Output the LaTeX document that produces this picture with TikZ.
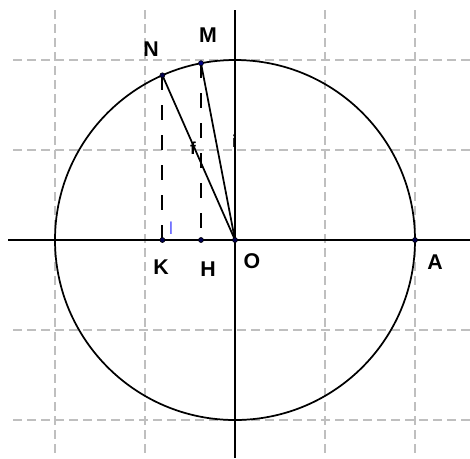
\documentclass[tikz,border=0pt]{standalone}
\usepackage{fontspec}
\setmainfont{Liberation Sans}
\begin{document}
\begin{tikzpicture}[x=0.75pt,y=-0.75pt,
  gridline/.style={draw=black!25,line width=1.2pt,dash pattern=on 6.75pt off 3.75pt},
  axis/.style={draw=black,line width=1.3pt},
  seg/.style={draw=black,line width=1.3pt},
  proj/.style={draw=black,line width=1.4pt,dash pattern=on 11.25pt off 11.25pt},
  pt/.style={circle,fill=black!70!blue,draw=black,line width=0.4pt,inner sep=0pt,minimum size=3.8pt},
  lbl/.style={font=\fontsize{16}{18}\selectfont\bfseries,inner sep=0pt},
  small/.style={font=\fontsize{13}{15}\selectfont\bfseries,inner sep=0pt}]
\useasboundingbox (0,0) rectangle (470,458);
% grid
\foreach \gx in {55,145,325,415} \draw[gridline] (\gx,10) -- (\gx,458);
\foreach \gy in {60,150,330,420} \draw[gridline] (13,\gy) -- (470,\gy);
% axes
\draw[axis] (8,240) -- (470,240);
\draw[axis] (235,10) -- (235,458);
% circle
\draw[seg] (235,240) circle[radius=180];
% points
\coordinate (Oc) at (235,240);
\coordinate (Nc) at (162.4,75.3);
\coordinate (Mc) at (201,63.2);
\coordinate (Kc) at (162.4,240);
\coordinate (Hc) at (201,240);
\coordinate (Ac) at (415,240);
\draw[proj] (Nc) -- (Kc);
\draw[proj] (Mc) -- (Hc);
\draw[seg] (Nc) -- (Oc);
\draw[seg] (Mc) -- (Oc);
\node[pt] (O) at (Oc) {};
\node[pt] (N) at (Nc) {};
\node[pt,fill=blue!50!black] (M) at (Mc) {};
\node[pt] (K) at (Kc) {};
\node[pt] (H) at (Hc) {};
\node[pt] (A) at (Ac) {};
% labels
\node[lbl] (lN) at (151,49) {N};
\node[lbl] (lM) at (208,35) {M};
\node[lbl] (lK) at (161,267) {K};
\node[lbl] (lH) at (208,269) {H};
\node[lbl] (lO) at (252,261) {O};
\node[lbl] (lA) at (435,262) {A};
\node[small] (lf) at (193,148) {f};
\node[small] (li) at (234.5,141) {i};
\node[small,font=\fontsize{13}{15}\selectfont,text=blue!65] (ll) at (171,228) {l};
\end{tikzpicture}
\end{document}
